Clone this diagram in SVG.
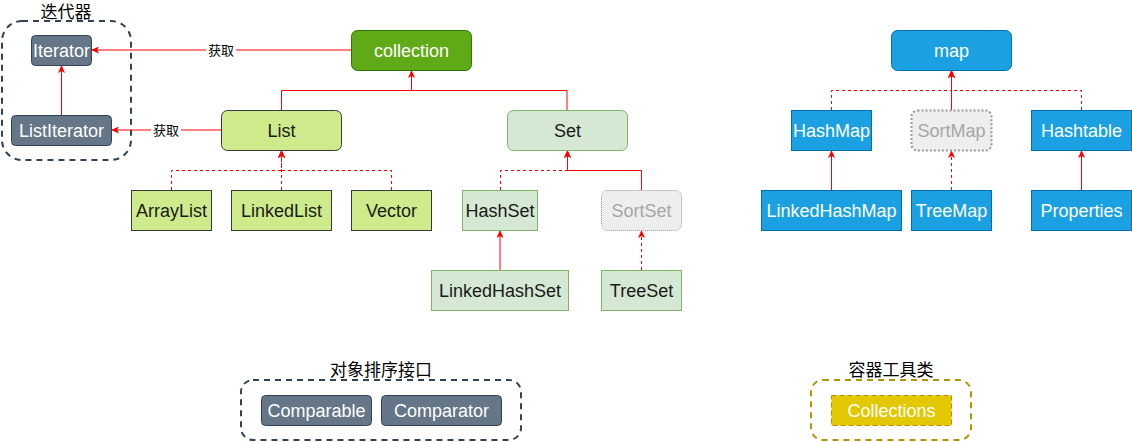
<svg xmlns="http://www.w3.org/2000/svg" width="1132" height="442" viewBox="0 0 1132 442">
<defs>
<marker id="arr" viewBox="0 0 8 7" refX="8" refY="3.5" markerWidth="8" markerHeight="7" markerUnits="userSpaceOnUse" orient="auto">
<path d="M0,0 L8,3.5 L0,7 L2,3.5 Z" fill="#FF0000"/>
</marker>
</defs>
<style>
text{font-family:"Liberation Sans",Arial,"Noto Sans CJK SC",sans-serif;font-size:18px;text-anchor:middle}
.cjk{font-family:"Noto Sans CJK SC","Liberation Sans",sans-serif;font-size:17px;fill:#000}
.lbl{font-family:"Noto Sans CJK SC","Liberation Sans",sans-serif;font-size:13px;fill:#000}
.gray rect{fill:#647687;stroke:#314354;stroke-width:1}
.gray text,.blue text,.green text,.yel text{fill:#ffffff}
.green rect{fill:#60a917;stroke:#2D7600}
.lg rect{fill:#cdeb8b;stroke:#36393d}
.lg text{fill:#1a1a1a}
.pg rect{fill:#d5e8d4;stroke:#82b366}
.pg text{fill:#1a1a1a}
.blue rect{fill:#1ba1e2;stroke:#006EAF}
.ghost rect{fill:#eeeeee;stroke:#999999}
.ghost text{fill:#a6a6a6}
.yel rect{fill:#e3c800;stroke:#B09500;stroke-dasharray:5 3}
.cont{fill:none;stroke:#314354;stroke-width:2;stroke-dasharray:6 5}
.conty{fill:none;stroke:#B09500;stroke-width:2;stroke-dasharray:6 5}
.e{fill:none;stroke:#FF0000;stroke-width:1;marker-end:url(#arr)}
.d{stroke-dasharray:3 3}
.e2{fill:none;stroke:#FF0000;stroke-width:1}
</style>

<g id="connectors">
<path class="e" d="M351,50 H91"/>
<rect x="206" y="42" width="30" height="16" fill="#ffffff"/>
<text class="lbl" x="221" y="55">获取</text>
<path class="e" d="M221,130 H111"/>
<rect x="151" y="122" width="30" height="16" fill="#ffffff"/>
<text class="lbl" x="166" y="135">获取</text>
<path class="e" d="M61.5,115 V65"/>
<path class="e" d="M281.5,110 V90.5 H411.5 V70"/>
<path class="e2" d="M567,110 V90.5 H411.5"/>
<path class="e d" d="M171.5,190 V170.5 H281.5 V150"/>
<path class="e d" d="M281.5,190 V150"/>
<path class="e d" d="M391.5,190 V170.5 H281.5 V150"/>
<path class="e d" d="M500.5,190 V170.5 H567.5 V150"/>
<path class="e" d="M641.5,190 V170.5 H567.5 V150"/>
<path class="e" d="M500,270 V230"/>
<path class="e d" d="M641.5,270 V230"/>
<path class="e d" d="M831.5,110 V90.5 H951.5 V70"/>
<path class="e d" d="M1081.5,110 V90.5 H951.5 V70"/>
<path class="e" d="M951.5,110 V70"/>
<path class="e" d="M831.5,190 V150"/>
<path class="e d" d="M951.5,190 V150"/>
<path class="e" d="M1081.5,190 V150"/>
</g>

<g id="iter-group">
<rect class="cont" x="2" y="21" width="129" height="139" rx="20"/>
<text class="cjk" x="66" y="18">迭代器</text>
</g>
<g id="Iterator" class="gray"><rect x="31.5" y="35.5" width="60" height="30" rx="4"/><text x="61.5" y="57">Iterator</text></g>
<g id="ListIterator" class="gray"><rect x="11.5" y="115.5" width="100" height="30" rx="4"/><text x="61.5" y="137">ListIterator</text></g>

<g id="collection" class="green"><rect x="351.5" y="30.5" width="120" height="40" rx="6"/><text x="411.5" y="57">collection</text></g>
<g id="List" class="lg"><rect x="221.5" y="110.5" width="120" height="40" rx="6"/><text x="281.5" y="137">List</text></g>
<g id="Set" class="pg"><rect x="507.5" y="110.5" width="120" height="40" rx="6"/><text x="567.5" y="137">Set</text></g>
<g id="ArrayList" class="lg"><rect x="131.5" y="190.5" width="80" height="40"/><text x="171.5" y="217">ArrayList</text></g>
<g id="LinkedList" class="lg"><rect x="231.5" y="190.5" width="100" height="40"/><text x="281.5" y="217">LinkedList</text></g>
<g id="Vector" class="lg"><rect x="351.5" y="190.5" width="80" height="40"/><text x="391.5" y="217">Vector</text></g>
<g id="HashSet" class="pg"><rect x="462.5" y="190.5" width="75" height="40"/><text x="500" y="217">HashSet</text></g>
<g id="SortSet" class="ghost"><rect x="601.5" y="190.5" width="80" height="40" rx="6" stroke-dasharray="1 1"/><text x="641.5" y="217">SortSet</text></g>
<g id="LinkedHashSet" class="pg"><rect x="431.5" y="270.5" width="137" height="40"/><text x="500" y="297">LinkedHashSet</text></g>
<g id="TreeSet" class="pg"><rect x="601.5" y="270.5" width="80" height="40"/><text x="641.5" y="297">TreeSet</text></g>

<g id="map" class="blue"><rect x="891.5" y="30.5" width="120" height="40" rx="6"/><text x="951.5" y="57">map</text></g>
<g id="HashMap" class="blue"><rect x="791.5" y="110.5" width="80" height="40"/><text x="831.5" y="137">HashMap</text></g>
<g id="SortMap" class="ghost"><rect x="911.5" y="110.5" width="80" height="40" rx="6" stroke-width="2" stroke-dasharray="2 2"/><text x="951.5" y="137">SortMap</text></g>
<g id="Hashtable" class="blue"><rect x="1031.5" y="110.5" width="100" height="40"/><text x="1081.5" y="137">Hashtable</text></g>
<g id="LinkedHashMap" class="blue"><rect x="761.5" y="190.5" width="140" height="40"/><text x="831.5" y="217">LinkedHashMap</text></g>
<g id="TreeMap" class="blue"><rect x="911.5" y="190.5" width="80" height="40"/><text x="951.5" y="217">TreeMap</text></g>
<g id="Properties" class="blue"><rect x="1031.5" y="190.5" width="100" height="40"/><text x="1081.5" y="217">Properties</text></g>

<g id="sort-group">
<rect class="cont" x="241" y="380" width="280" height="60" rx="12"/>
<text class="cjk" x="381" y="376">对象排序接口</text>
</g>
<g id="Comparable" class="gray"><rect x="261.5" y="395.5" width="110" height="30" rx="4"/><text x="316.5" y="417">Comparable</text></g>
<g id="Comparator" class="gray"><rect x="381.5" y="395.5" width="120" height="30" rx="4"/><text x="441.5" y="417">Comparator</text></g>

<g id="tool-group">
<rect class="conty" x="811" y="380" width="160" height="60" rx="12"/>
<text class="cjk" x="891" y="376">容器工具类</text>
</g>
<g id="Collections" class="yel"><rect x="831.5" y="395.5" width="120" height="30"/><text x="891.5" y="417">Collections</text></g>
</svg>
